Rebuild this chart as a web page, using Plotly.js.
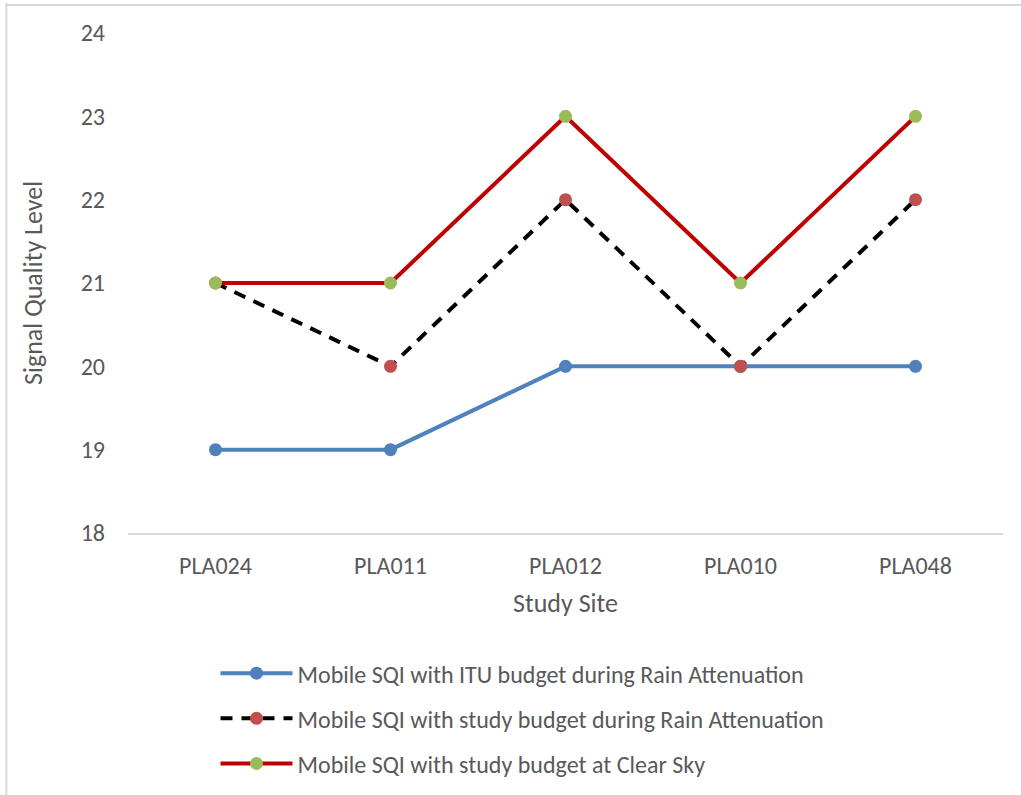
<!DOCTYPE html>
<html>
<head>
<meta charset="utf-8">
<script src="https://cdn.plot.ly/plotly-3.0.1.min.js"></script>
<style>html,body{margin:0;padding:0;background:#fff;}#chart{width:1021px;height:795px;}</style>
</head>
<body>
<div id="chart"></div>
<script>
const sites = ["PLA024", "PLA011", "PLA012", "PLA010", "PLA048"];
const ituRain = [19, 19, 20, 20, 20];
const studyRain = [21, 20, 22, 20, 22];
const studyClear = [21, 21, 23, 21, 23];
const seriesNames = [
  "Mobile SQI with ITU budget during Rain Attenuation",
  "Mobile SQI with study budget during Rain Attenuation",
  "Mobile SQI with study budget at Clear Sky"
];
const yTicks = [18, 19, 20, 21, 22, 23, 24];

const fontFam = "Carlito, 'Open Sans', 'Liberation Sans', sans-serif";
const traces = [
  {x: sites, y: ituRain, name: seriesNames[0], mode: "lines+markers", legendgroup: "a",
   line: {color: "#4F81BD", width: 4}, marker: {color: "#4F81BD", size: 13}},
  {x: sites, y: studyRain, name: seriesNames[1], mode: "lines+markers", legendgroup: "b",
   line: {color: "#000000", width: 4, dash: "12px,9px"}, marker: {color: "#C0504D", size: 13}},
  {x: sites, y: studyClear, name: seriesNames[2], mode: "lines+markers", legendgroup: "c",
   line: {color: "#C00000", width: 4}, marker: {color: "#9BBB59", size: 13}}
];
const layout = {
  width: 1021, height: 795,
  margin: {l: 128, r: 18, t: 33, b: 262},
  paper_bgcolor: "#fff", plot_bgcolor: "#fff",
  font: {family: fontFam, color: "#595959", size: 24},
  showlegend: true,
  legend: {orientation: "v", x: 0.1, xanchor: "left", yref: "container", y: 0.1811, yanchor: "top",
           font: {size: 24, color: "#595959"}, tracegroupgap: 11, itemwidth: 72},
  xaxis: {type: "category", range: [-0.5, 4.5], showgrid: false, showline: true, linecolor: "#D9D9D9", linewidth: 1.5,
          ticks: "", tickfont: {size: 24, color: "#595959"}, ticklabelstandoff: 11,
          title: {text: "Study Site", font: {size: 26, color: "#595959"}, standoff: 14}},
  yaxis: {range: [18, 24], tickvals: yTicks, showgrid: false, zeroline: false, showline: false,
          ticks: "", tickfont: {size: 24, color: "#595959"}, ticklabelstandoff: 22},
  annotations: [
    {text: "Signal Quality Level", xref: "paper", yref: "paper", x: -0.1086, y: 0.5,
     xanchor: "center", yanchor: "middle", textangle: -90, showarrow: false,
     font: {size: 26, color: "#595959"}}
  ],
  shapes: [
    {type: "line", xref: "paper", yref: "paper", x0: -0.139, x1: -0.139, y0: 1.06, y1: -0.57,
     line: {color: "#D9D9D9", width: 2}},
    {type: "line", xref: "paper", yref: "paper", x0: -0.139, x1: 1.03, y0: 1.056, y1: 1.056,
     line: {color: "#D9D9D9", width: 2}}
  ]
};
Plotly.newPlot("chart", traces, layout, {displayModeBar: false, staticPlot: true});
</script>
</body>
</html>
